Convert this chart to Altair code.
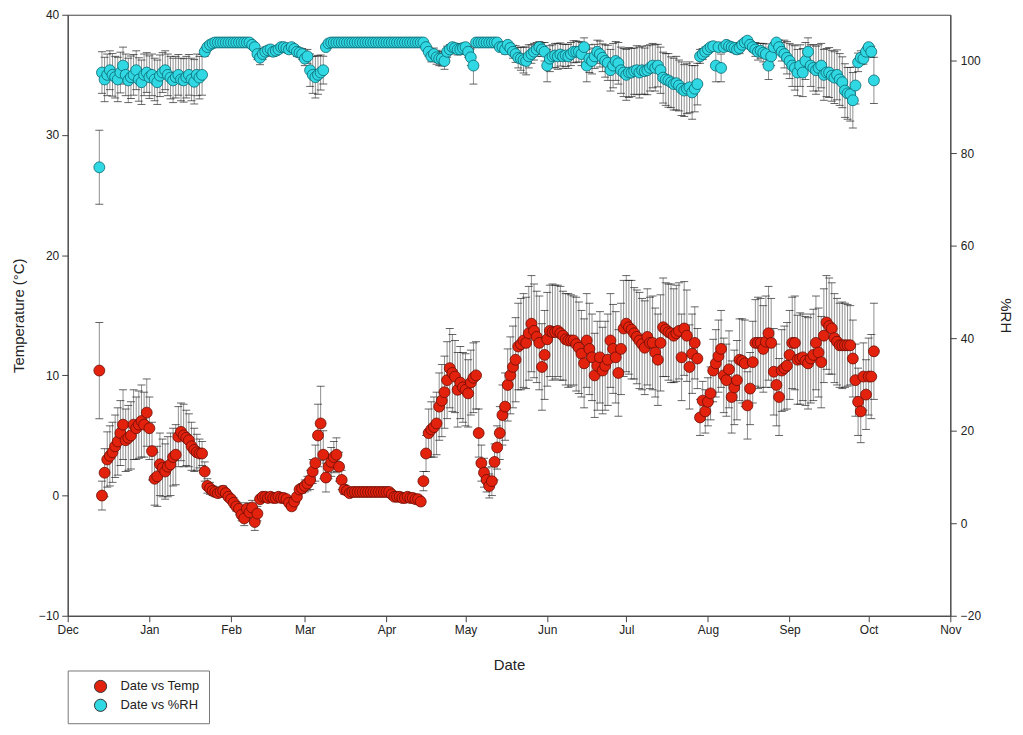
import altair as alt
import pandas as pd

# ---------------- data (daily, 13 Dec 2006 .. 3 Oct 2007) ----------------
start_date = "2006-12-13"

temp = [
    10.4, 0.0, 1.9, 3.0, 3.3, 3.6, 4.1, 4.5, 5.2, 5.9,
    4.6, 4.8, 5.0, 5.9, 5.6, 5.9, 6.2, 5.9, 6.9, 5.6,
    3.7, 1.4, 1.6, 2.6, 2.3, 2.0, 2.4, 2.6, 3.2, 3.4,
    4.9, 5.3, 5.0, 4.8, 4.6, 4.1, 3.8, 3.6, 3.5, 3.5,
    2.0, 0.8, 0.6, 0.4, 0.3, 0.2, 0.3, 0.4, 0.2, -0.1,
    -0.3, -0.6, -0.9, -1.1, -1.6, -1.9, -1.1, -1.4, -1.0, -2.2,
    -1.5, -0.3, -0.1, -0.1, -0.2, -0.1, -0.2, -0.2, -0.1, -0.2,
    -0.2, -0.3, -0.6, -0.9, -0.5, -0.1, 0.5, 0.6, 0.8, 1.0,
    1.3, 2.0, 2.7, 5.0, 6.0, 3.4, 1.5, 2.4, 2.8, 3.2,
    3.4, 2.4, 1.3, 0.5, 0.4, 0.2, 0.3, 0.3, 0.3, 0.3,
    0.3, 0.3, 0.3, 0.3, 0.3, 0.3, 0.3, 0.3, 0.3, 0.3,
    0.3, 0.1, -0.1, -0.1, -0.1, -0.2, -0.2, -0.1, -0.2, -0.2,
    -0.3, -0.3, -0.5, 1.2, 3.5, 5.2, 5.5, 5.7, 6.0, 7.4,
    7.9, 8.6, 9.6, 10.6, 10.2, 9.9, 8.8, 9.4, 9.0, 8.8,
    8.5, 9.4, 9.8, 10.0, 5.2, 2.7, 1.9, 1.3, 0.8, 1.2,
    2.8, 4.0, 5.2, 6.7, 7.4, 9.2, 10.0, 10.7, 11.3, 12.4,
    12.6, 12.9, 12.7, 13.5, 14.3, 13.7, 13.2, 12.7, 10.7, 11.7,
    13.0, 13.7, 13.6, 13.6, 13.7, 13.5, 13.3, 13.0, 12.9, 12.9,
    12.9, 12.6, 12.3, 11.8, 11.0, 12.9, 12.2, 11.5, 10.0, 10.8,
    11.5, 10.4, 10.8, 11.3, 12.9, 12.2, 11.5, 10.2, 12.2, 13.9,
    14.3, 14.0, 13.8, 13.5, 13.2, 12.9, 12.6, 12.3, 13.2, 12.7,
    12.7, 11.9, 11.3, 12.7, 14.0, 13.8, 13.6, 13.5, 13.3, 13.5,
    13.7, 11.5, 13.9, 13.3, 10.7, 11.8, 12.7, 11.4, 6.5, 7.9,
    7.0, 7.8, 8.5, 10.4, 11.0, 11.6, 12.2, 10.0, 9.6, 10.5,
    8.2, 9.0, 9.6, 11.3, 11.2, 11.0, 7.5, 8.9, 11.1, 12.7,
    12.7, 12.7, 12.2, 12.8, 13.5, 12.7, 10.3, 9.2, 8.2, 10.4,
    10.6, 10.8, 11.7, 12.7, 12.7, 11.3, 11.4, 11.5, 11.2, 11.0,
    11.4, 11.7, 12.7, 11.9, 11.1, 13.3, 14.4, 14.1, 13.9, 13.1,
    12.8, 12.5, 12.5, 12.5, 12.5, 12.5, 11.4, 9.6, 7.8, 7.0,
    9.9, 8.4, 9.9, 9.9, 12.0,
]

temp_err = [
    4.0, 1.2, 2.0, 2.3, 2.5, 2.5, 2.6, 2.8, 2.7, 2.9,
    2.6, 2.7, 2.8, 2.9, 2.6, 2.8, 3.0, 2.7, 2.8, 2.6,
    2.4, 2.2, 2.5, 2.6, 2.4, 2.3, 2.5, 2.6, 2.4, 2.5,
    2.5, 2.4, 2.6, 2.3, 2.2, 2.0, 1.8, 1.5, 1.2, 1.0,
    0.8, 0.6, 0.5, 0.4, 0.4, 0.3, 0.3, 0.4, 0.3, 0.3,
    0.3, 0.4, 0.4, 0.5, 0.5, 0.6, 0.5, 0.5, 0.6, 0.7,
    0.6, 0.3, 0.2, 0.2, 0.2, 0.2, 0.2, 0.2, 0.2, 0.2,
    0.2, 0.2, 0.3, 0.3, 0.3, 0.2, 0.3, 0.4, 0.5, 0.6,
    0.8, 1.0, 1.5, 2.6, 3.1, 2.0, 1.2, 1.0, 1.2, 1.3,
    1.4, 1.2, 0.8, 0.4, 0.2, 0.1, 0.1, 0.1, 0.1, 0.1,
    0.1, 0.1, 0.1, 0.1, 0.1, 0.1, 0.1, 0.1, 0.1, 0.1,
    0.1, 0.1, 0.1, 0.1, 0.1, 0.1, 0.1, 0.1, 0.1, 0.1,
    0.1, 0.1, 0.3, 0.8, 1.5, 2.0, 2.3, 2.5, 2.6, 2.8,
    3.0, 3.0, 3.2, 3.3, 3.2, 3.0, 3.1, 3.0, 2.9, 3.0,
    2.8, 2.7, 2.9, 2.8, 2.0, 1.5, 1.2, 1.0, 1.0, 1.2,
    1.5, 1.8, 2.2, 2.5, 2.8, 3.0, 3.2, 3.4, 3.5, 3.6,
    3.8, 3.9, 3.8, 3.9, 4.0, 3.9, 3.8, 3.9, 3.6, 3.7,
    3.9, 3.8, 4.0, 3.9, 3.8, 3.9, 3.7, 3.8, 3.9, 3.8,
    3.7, 3.9, 3.8, 3.6, 3.7, 3.9, 3.8, 3.6, 3.5, 3.7,
    3.8, 3.6, 3.7, 3.8, 3.9, 3.7, 3.8, 3.6, 3.8, 4.0,
    4.0, 3.9, 4.1, 3.8, 3.9, 4.0, 3.8, 3.9, 4.0, 3.8,
    3.9, 3.7, 3.8, 4.0, 4.1, 3.9, 4.0, 4.1, 3.9, 4.0,
    4.0, 3.6, 3.9, 3.8, 3.5, 3.3, 3.0, 2.5, 1.5, 1.6,
    1.8, 2.0, 2.2, 2.6, 2.8, 3.0, 3.2, 3.1, 3.0, 3.2,
    3.0, 3.1, 3.3, 3.4, 3.5, 3.6, 2.8, 3.0, 3.4, 3.6,
    3.8, 3.7, 3.6, 3.8, 3.9, 3.7, 3.6, 3.4, 3.2, 3.4,
    3.5, 3.6, 3.7, 3.8, 3.9, 3.7, 3.8, 3.6, 3.7, 3.8,
    3.7, 3.8, 3.9, 3.7, 3.8, 3.9, 3.9, 4.0, 3.8, 3.7,
    3.6, 3.5, 3.6, 3.5, 3.4, 3.3, 3.2, 3.0, 2.8, 2.6,
    2.8, 2.9, 3.2, 3.5, 4.0,
]

rh = [
    77.0, 97.5, 96.0, 97.0, 98.0, 97.0, 96.5, 96.0, 97.5, 99.0,
    97.0, 95.8, 96.5, 97.0, 98.0, 96.0, 95.4, 97.0, 97.5, 96.5,
    97.0, 96.0, 95.4, 96.8, 97.5, 98.0, 97.0, 96.4, 95.8, 96.5,
    97.0, 96.0, 95.8, 96.5, 97.0, 96.0, 95.5, 97.0, 96.4, 97.0,
    102.0, 103.0, 103.5, 103.8, 104.0, 104.0, 104.0, 104.0, 104.0, 104.0,
    104.0, 104.0, 104.0, 104.0, 104.0, 104.0, 104.0, 104.0, 103.5, 103.0,
    101.5, 100.7, 101.5, 102.0, 102.3, 102.5, 102.0, 102.2, 102.5, 103.0,
    103.0, 102.8, 102.5, 103.0, 102.6, 102.0, 101.8, 101.5, 100.5, 101.0,
    98.0, 97.0, 96.5, 97.0, 97.5, 98.0, 103.0, 103.8, 104.0, 104.0,
    104.0, 104.0, 104.0, 104.0, 104.0, 104.0, 104.0, 104.0, 104.0, 104.0,
    104.0, 104.0, 104.0, 104.0, 104.0, 104.0, 104.0, 104.0, 104.0, 104.0,
    104.0, 104.0, 104.0, 104.0, 104.0, 104.0, 104.0, 104.0, 104.0, 104.0,
    104.0, 104.0, 104.0, 104.0, 103.0, 102.0, 101.0, 101.5, 100.8, 100.5,
    100.5, 100.0, 102.0, 102.5, 103.0, 102.8, 102.5, 102.5, 102.8, 103.0,
    102.0, 100.8, 99.0, 104.0, 104.0, 104.0, 104.0, 104.0, 104.0, 104.0,
    104.0, 104.0, 103.0, 103.0, 102.5, 103.5, 102.8, 102.0, 101.5, 100.7,
    100.5, 100.2, 100.0, 101.0, 101.5, 102.0, 102.5, 103.0, 102.5, 102.0,
    99.0, 100.5, 101.0, 101.2, 101.0, 101.4, 101.0, 101.2, 101.0, 101.5,
    102.0, 102.0, 102.0, 101.5, 103.0, 99.0, 100.5, 100.0, 101.0, 102.0,
    101.5, 100.7, 100.0, 99.6, 98.0, 99.0, 100.0, 99.5, 98.0, 97.5,
    97.0, 97.5, 97.5, 97.8, 98.0, 97.5, 98.0, 97.8, 98.0, 98.5,
    99.0, 98.5, 99.0, 98.0, 96.4, 96.0, 95.8, 95.4, 95.0, 95.2,
    94.7, 94.0, 93.6, 94.0, 94.3, 93.2, 94.0, 95.0, 101.0, 101.5,
    102.0, 102.5, 103.0, 103.2, 99.0, 103.0, 98.5, 103.0, 103.5, 103.2,
    103.0, 102.8, 102.5, 102.8, 103.5, 104.0, 104.4, 103.5, 103.0, 102.5,
    102.0, 102.2, 101.8, 101.5, 99.0, 101.0, 103.0, 104.0, 103.0, 102.0,
    101.5, 100.7, 100.0, 99.0, 98.5, 97.5, 99.0, 97.5, 100.0, 102.0,
    99.0, 98.5, 98.0, 98.5, 99.0, 97.0, 97.5, 97.5, 96.8, 96.4,
    97.0, 96.0, 95.4, 93.6, 93.0, 92.8, 91.5, 94.7, 99.7, 100.7,
    100.5, 102.0, 103.0, 102.0, 95.8,
]

rh_err = [
    8.0, 4.5, 4.8, 4.5, 4.2, 4.6, 4.5, 4.8, 4.4, 4.0,
    4.5, 4.8, 4.6, 4.4, 4.2, 4.7, 4.8, 4.5, 4.3, 4.6,
    4.5, 4.6, 4.8, 4.5, 4.3, 4.2, 4.5, 4.6, 4.8, 4.5,
    4.4, 4.6, 4.7, 4.5, 4.4, 4.6, 4.8, 4.5, 4.6, 4.4,
    1.0, 0.6, 0.4, 0.3, 0.2, 0.2, 0.2, 0.2, 0.2, 0.2,
    0.2, 0.2, 0.2, 0.2, 0.2, 0.2, 0.2, 0.2, 0.4, 0.6,
    1.2, 1.5, 1.2, 1.0, 0.8, 0.8, 1.0, 0.9, 0.8, 0.6,
    0.6, 0.7, 0.8, 0.6, 0.8, 1.0, 1.0, 1.2, 1.5, 1.5,
    3.5, 4.0, 4.5, 4.2, 3.8, 3.0, 0.6, 0.3, 0.2, 0.2,
    0.2, 0.2, 0.2, 0.2, 0.2, 0.2, 0.2, 0.2, 0.2, 0.2,
    0.2, 0.2, 0.2, 0.2, 0.2, 0.2, 0.2, 0.2, 0.2, 0.2,
    0.2, 0.2, 0.2, 0.2, 0.2, 0.2, 0.2, 0.2, 0.2, 0.2,
    0.2, 0.2, 0.2, 0.2, 0.6, 1.0, 1.2, 1.3, 1.5, 1.5,
    1.6, 1.8, 1.2, 1.0, 0.8, 1.0, 1.2, 1.1, 1.0, 0.8,
    1.2, 1.8, 4.0, 0.3, 0.2, 0.2, 0.2, 0.2, 0.2, 0.2,
    0.2, 0.2, 0.6, 0.8, 1.0, 0.6, 1.0, 1.4, 1.8, 2.2,
    2.5, 2.8, 3.0, 2.5, 2.0, 1.8, 1.5, 1.2, 1.5, 2.0,
    3.5, 2.8, 2.5, 2.6, 2.8, 2.5, 2.6, 2.4, 2.6, 2.5,
    2.4, 2.3, 2.2, 2.5, 2.0, 3.5, 3.0, 2.8, 2.6, 2.5,
    2.8, 3.0, 3.5, 3.8, 4.5, 4.8, 4.2, 4.5, 5.0, 5.2,
    5.5, 5.4, 5.2, 5.0, 5.3, 5.5, 5.2, 5.0, 5.3, 5.0,
    4.8, 5.0, 4.6, 5.0, 5.5, 5.6, 5.8, 5.5, 5.6, 5.8,
    5.5, 5.8, 5.6, 5.4, 5.5, 5.8, 5.0, 4.5, 1.5, 1.2,
    1.0, 0.8, 0.6, 0.6, 3.5, 0.5, 3.0, 0.6, 0.5, 0.6,
    0.8, 1.0, 1.0, 1.2, 0.8, 0.5, 0.4, 0.8, 1.0, 1.5,
    1.8, 1.6, 2.0, 2.2, 3.0, 2.0, 1.0, 0.5, 1.5, 2.0,
    3.0, 3.5, 3.8, 4.5, 4.8, 5.0, 4.5, 5.2, 4.0, 3.0,
    4.5, 5.0, 5.2, 5.0, 4.8, 5.5, 5.2, 5.4, 5.5, 5.6,
    5.4, 5.6, 5.5, 5.8, 5.6, 5.8, 6.0, 4.0, 2.0, 1.5,
    1.2, 1.0, 0.8, 1.2, 5.0,
]

series_names = ["Date vs Temp", "Date vs %RH"]
series_fill = ["#e3220e", "#2fd8e2"]
temp_ticks = [-10, 0, 10, 20, 30, 40]
rh_ticks = [-20, 0, 20, 40, 60, 80, 100]
month_ticks = [(2006, 12)] + [(2007, m) for m in range(1, 12)]

# ---------------- frames ----------------
dates = pd.date_range(start_date, periods=len(temp), freq="D").strftime("%Y-%m-%d")
tdf = pd.DataFrame({
    "date": dates, "v": temp,
    "lo": [v - e for v, e in zip(temp, temp_err)],
    "hi": [v + e for v, e in zip(temp, temp_err)],
    "series": series_names[0],
})
rdf = pd.DataFrame({
    "date": dates, "v": rh,
    "lo": [v - e for v, e in zip(rh, rh_err)],
    "hi": [v + e for v, e in zip(rh, rh_err)],
    "series": series_names[1],
})

FONT = "Liberation Sans"

x_enc = alt.X(
    "date:T",
    scale=alt.Scale(
        type="utc",
        domain=[alt.DateTime(year=2006, month=12, date=1, utc=True),
                alt.DateTime(year=2007, month=11, date=1, utc=True)],
    ),
    axis=alt.Axis(
        title="Date",
        values=[alt.DateTime(year=y, month=m, date=1, utc=True) for y, m in month_ticks],
        labelExpr="utcFormat(datum.value, '%b')", labelFlush=False,
        tickSize=6, labelPadding=3, titlePadding=22,
    ),
)

t_axis = alt.Axis(title="Temperature (°C)", orient="left", values=temp_ticks,
                  tickSize=6, labelPadding=3, titlePadding=12)
r_axis = alt.Axis(title="%RH", orient="right", values=rh_ticks,
                  tickSize=6, labelPadding=4, titlePadding=17)
t_scale = alt.Scale(domain=[-10, 40], nice=False, zero=False)
r_scale = alt.Scale(domain=[-20, 110], nice=False, zero=False)

fill_enc = alt.Fill(
    "series:N",
    scale=alt.Scale(domain=series_names, range=series_fill),
    legend=alt.Legend(
        title=None, orient="none", legendX=0, legendY=659,
        padding=9, strokeColor="#777", fillColor="white",
        symbolType="circle", symbolSize=150, symbolStrokeColor="#333",
        symbolStrokeWidth=1, symbolOffset=17, labelOffset=13,
        rowPadding=1, labelFontSize=13, labelFont=FONT, labelColor="#222",
    ),
)


def series_layer(df, scale, axis, stroke):
    def Y(field):
        return alt.Y(field, scale=scale, axis=axis)
    bars = alt.Chart(df).mark_rule(color="#8f8f8f", strokeWidth=1).encode(
        x=x_enc, y=Y("lo:Q"), y2="hi:Q")
    cap_lo = alt.Chart(df).mark_tick(orient="horizontal", color="#222", size=8,
                                     thickness=1).encode(x=x_enc, y=Y("lo:Q"))
    cap_hi = alt.Chart(df).mark_tick(orient="horizontal", color="#222", size=8,
                                     thickness=1).encode(x=x_enc, y=Y("hi:Q"))
    pts = alt.Chart(df).mark_circle(size=120, opacity=1, stroke=stroke,
                                    strokeWidth=0.8).encode(
        x=x_enc, y=Y("v:Q"), fill=fill_enc)
    return alt.layer(bars, cap_lo, cap_hi, pts)


temp_layer = series_layer(tdf, t_scale, t_axis, "#6a0d04")
rh_layer = series_layer(rdf, r_scale, r_axis, "#0a6670")

chart = (
    alt.layer(temp_layer, rh_layer)
    .resolve_scale(y="independent")
    .properties(
        width=887, height=604,
        padding={"left": 60, "top": 5, "right": 65, "bottom": 108},
        autosize=alt.AutoSizeParams(type="none"),
        background="white",
    )
    .configure_view(stroke="#444", strokeWidth=1)
    .configure_axis(
        grid=False, labelFont=FONT, titleFont=FONT, labelFontSize=12,
        titleFontSize=15, titleFontWeight="normal", labelColor="#222",
        titleColor="#222", domainColor="#444", tickColor="#444",
    )
)

chart.save("out.html", embed_options={"renderer": "svg", "actions": False})
